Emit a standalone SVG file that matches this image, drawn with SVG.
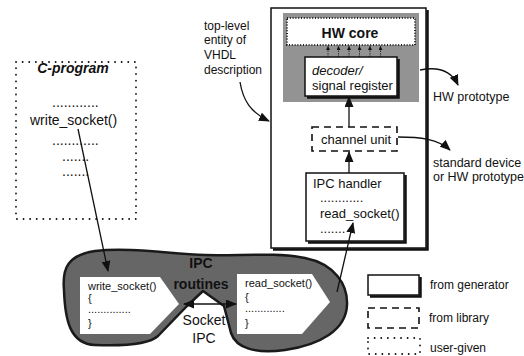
<svg xmlns="http://www.w3.org/2000/svg" width="524" height="356" viewBox="0 0 524 356">
<style>
text{font-family:"Liberation Sans",Arial,sans-serif;fill:#111}
.t12{font-size:12px}
.t125{font-size:12.5px}
.t13{font-size:13px}
.t14{font-size:14px}
.t11{font-size:11px}
.b{font-weight:bold}
.i{font-style:italic}
.solid{fill:#fff;stroke:#111;stroke-width:1.5}
.shadow{fill:none;stroke:#111;stroke-width:2.5}
.dashed{fill:#fff;stroke:#111;stroke-width:1.6;stroke-dasharray:7 5}
.dotted{fill:none;stroke:#111;stroke-width:1.8;stroke-dasharray:0.1 6.5;stroke-linecap:round}
.dense{fill:#fff;stroke:#222;stroke-width:2;stroke-dasharray:1 1.8}
.conn{fill:none;stroke:#111;stroke-width:1.3}
.shade{fill:#939393}
.blob{fill:#666;stroke:#1a1a1a;stroke-width:2.5;stroke-linejoin:round}
</style>
<defs>
<marker id="ah" markerUnits="userSpaceOnUse" markerWidth="11" markerHeight="9" refX="10" refY="4.5" orient="auto-start-reverse">
<path d="M0,0 L11,4.5 L0,9 Z" fill="#111"/>
</marker>
<marker id="ahs" markerUnits="userSpaceOnUse" markerWidth="4" markerHeight="4" refX="4" refY="2" orient="auto">
<path d="M0,0 L4,2 L0,4 Z" fill="#111"/>
</marker>
</defs>

<g id="c-program">
<rect class="dotted" x="16" y="62" width="120" height="157"/>
<text class="t14 b i" x="73" y="73" text-anchor="middle">C-program</text>
<text class="t14" x="52" y="107">............</text>
<text class="t14" x="30" y="125">write_socket()</text>
<text class="t14" x="52" y="145">............</text>
<text class="t14" x="62" y="161">.......</text>
<text class="t14" x="62" y="176">.......</text>
</g>

<g id="vhdl-label">
<text class="t12" x="204" y="30">top-level</text>
<text class="t12" x="204" y="44">entity of</text>
<text class="t12" x="204" y="59">VHDL</text>
<text class="t12" x="204" y="74">description</text>
</g>

<g id="hw-entity">
<rect class="solid" x="271" y="8" width="155" height="240"/>
<polyline class="shadow" points="273,249.5 427.5,249.5 427.5,10"/>
<rect class="shade" x="283" y="13" width="136" height="89"/>
</g>

<g id="hw-core">
<rect class="dense" x="287" y="18" width="128" height="27"/>
<text class="t14 b" x="350" y="38" text-anchor="middle">HW core</text>
</g>

<g id="decoder">
<rect class="solid" x="305" y="57" width="92" height="39" stroke-width="2"/>
<polyline class="shadow" points="307,97.5 398.5,97.5 398.5,59"/>
<text class="t13 i" x="312" y="75">decoder/</text>
<text class="t13" x="312" y="90">signal register</text>
</g>

<g id="channel-unit">
<rect class="dashed" x="312" y="127" width="85" height="24"/>
<text class="t13" x="321" y="144">channel unit</text>
</g>

<g id="ipc-handler">
<rect class="solid" x="306" y="173" width="98" height="68"/>
<polyline class="shadow" points="308,242.5 405.5,242.5 405.5,175"/>
<text class="t13" x="313" y="188">IPC handler</text>
<text class="t13" x="320" y="202">............</text>
<text class="t13" x="320" y="218">read_socket()</text>
<text class="t13" x="320" y="233">.......</text>
</g>

<g id="hw-prototype-label">
<text class="t125" x="433" y="101">HW prototype</text>
</g>

<g id="standard-device-label">
<text class="t125" x="433" y="167">standard device</text>
<text class="t125" x="433" y="181">or HW prototype</text>
</g>

<g id="ipc-routines">
<path class="blob" d="M64,290 C62,268 68,255 95,251 C130,247 170,254 205,255 C240,256 275,252 305,258 C335,264 348,285 347,305 C346,330 320,345 285,350 C255,354 236,348 231,333 L224,306 L203,291 L187,306 L158,336 C148,345 120,346 95,345 C70,344 65,320 64,290 Z"/>
<text class="t14 b" x="201" y="268" text-anchor="middle">IPC</text>
<text class="t14 b" x="201" y="289" text-anchor="middle">routines</text>
</g>

<g id="write-socket-routine">
<path d="M80,277 L160,277 L179,304 L150,334 L80,334 Z" fill="#fff"/>
<text class="t11" x="88" y="290">write_socket()</text>
<text class="t11" x="88" y="302">{</text>
<text class="t11" x="88" y="313">..............</text>
<text class="t11" x="88" y="327">}</text>
</g>

<g id="read-socket-routine">
<path d="M237,274 L312,274 L330,302 L302,334 L237,334 Z" fill="#fff"/>
<text class="t11" x="245" y="287">read_socket()</text>
<text class="t11" x="245" y="301">{</text>
<text class="t11" x="245" y="312">.............</text>
<text class="t11" x="245" y="327">}</text>
</g>

<g id="socket-ipc-label">
<text class="t14" x="204" y="325" text-anchor="middle">Socket</text>
<text class="t14" x="204" y="343" text-anchor="middle">IPC</text>
</g>

<g id="legend">
<rect class="solid" x="368" y="275" width="51" height="20"/>
<polyline class="shadow" points="370,296.5 420.5,296.5 420.5,277"/>
<text class="t12" x="430" y="289">from generator</text>
<rect class="dashed" x="368" y="308" width="51" height="20" fill="none"/>
<text class="t12" x="429" y="322">from library</text>
<rect class="dotted" x="368" y="338" width="52" height="16"/>
<text class="t12" x="430" y="352">user-given</text>
</g>

<g id="connectors">
<path class="conn" d="M240,82 C243,100 250,112 269,121" marker-end="url(#ah)"/>
<path class="conn" d="M420,70 C440,66 452,72 458,85" marker-end="url(#ah)"/>
<path class="conn" d="M398,137 C420,137 438,139 450,150" marker-end="url(#ah)"/>
<line class="conn" x1="349" y1="127" x2="349" y2="97" marker-end="url(#ah)"/>
<line class="conn" x1="349" y1="173" x2="349" y2="152" marker-end="url(#ah)"/>
<g stroke="#111" stroke-width="0.8" stroke-dasharray="1.5 1">
<line x1="328" y1="57" x2="328" y2="46" marker-end="url(#ahs)"/>
<line x1="338.5" y1="57" x2="338.5" y2="46" marker-end="url(#ahs)"/>
<line x1="349" y1="57" x2="349" y2="46" marker-end="url(#ahs)"/>
<line x1="359.5" y1="57" x2="359.5" y2="46" marker-end="url(#ahs)"/>
<line x1="370" y1="57" x2="370" y2="46" marker-end="url(#ahs)"/>
<line x1="380.5" y1="57" x2="380.5" y2="46" marker-end="url(#ahs)"/>
</g>
<line class="conn" x1="78" y1="129" x2="108" y2="271" marker-end="url(#ah)"/>
<line class="conn" x1="337" y1="292" x2="353" y2="223" marker-end="url(#ah)"/>
<line class="conn" x1="184" y1="304" x2="236" y2="304" stroke-width="1.6" marker-start="url(#ah)" marker-end="url(#ah)"/>
</g>
</svg>
